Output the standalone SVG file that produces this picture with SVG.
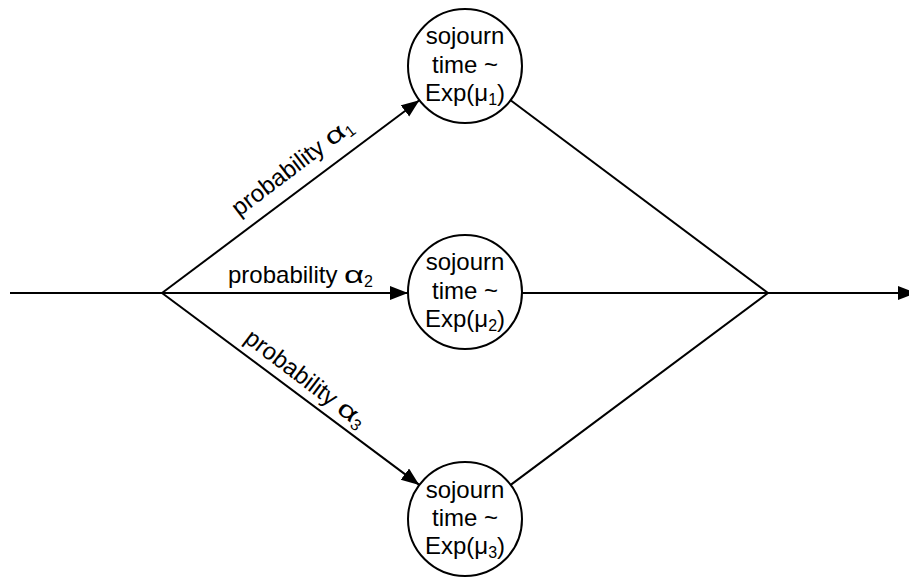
<svg xmlns="http://www.w3.org/2000/svg" width="909" height="579" viewBox="0 0 909 579">
<defs>
<marker id="arr" markerUnits="userSpaceOnUse" markerWidth="20" markerHeight="16" refX="18" refY="7" orient="auto">
<path d="M0,0 L18,7 L0,14 z" fill="#000"/>
</marker>
<style>
.ln{stroke:#000;stroke-width:2;fill:none}
.nd{stroke:#000;stroke-width:2;fill:#fff}
.t{font-family:"Liberation Sans",Arial,sans-serif;font-size:24px;fill:#000}
.ct{text-anchor:middle}
.sb{font-size:16px}
</style>
</defs>
<g id="connectors">
<path class="ln" d="M10,293 L162,293"/>
<path class="ln" d="M162,293 L419.4,100.2" marker-end="url(#arr)"/>
<path class="ln" d="M162,293 L408,293" marker-end="url(#arr)"/>
<path class="ln" d="M162,293 L419.3,484.9" marker-end="url(#arr)"/>
<path class="ln" d="M510.6,100.2 L768,293"/>
<path class="ln" d="M522,293 L768,293"/>
<path class="ln" d="M510.7,484.9 L768,293"/>
<path class="ln" d="M768,293 L916,293" marker-end="url(#arr)"/>
<text class="t" transform="translate(239,217) rotate(-37.1)">probability <tspan textLength="20" lengthAdjust="spacingAndGlyphs">α</tspan><tspan class="sb" dy="4">1</tspan></text>
<text class="t" x="228" y="283">probability <tspan textLength="20" lengthAdjust="spacingAndGlyphs">α</tspan><tspan class="sb" dy="4">2</tspan></text>
<text class="t" transform="translate(243,341) rotate(37.2)">probability <tspan textLength="20" lengthAdjust="spacingAndGlyphs">α</tspan><tspan class="sb" dy="4">3</tspan></text>
</g>
<g id="node1">
<circle class="nd" cx="465" cy="66" r="57"/>
<text class="t ct" x="465" y="44">sojourn</text>
<text class="t ct" x="465" y="73">time ~</text>
<text class="t ct" x="465" y="101">Exp(μ<tspan class="sb" dy="4">1</tspan><tspan dy="-4">)</tspan></text>
</g>
<g id="node2">
<circle class="nd" cx="465" cy="292" r="57"/>
<text class="t ct" x="465" y="270">sojourn</text>
<text class="t ct" x="465" y="299">time ~</text>
<text class="t ct" x="465" y="327">Exp(μ<tspan class="sb" dy="4">2</tspan><tspan dy="-4">)</tspan></text>
</g>
<g id="node3">
<circle class="nd" cx="465" cy="519" r="57"/>
<text class="t ct" x="465" y="498">sojourn</text>
<text class="t ct" x="465" y="526">time ~</text>
<text class="t ct" x="465" y="554">Exp(μ<tspan class="sb" dy="4">3</tspan><tspan dy="-4">)</tspan></text>
</g>
</svg>
